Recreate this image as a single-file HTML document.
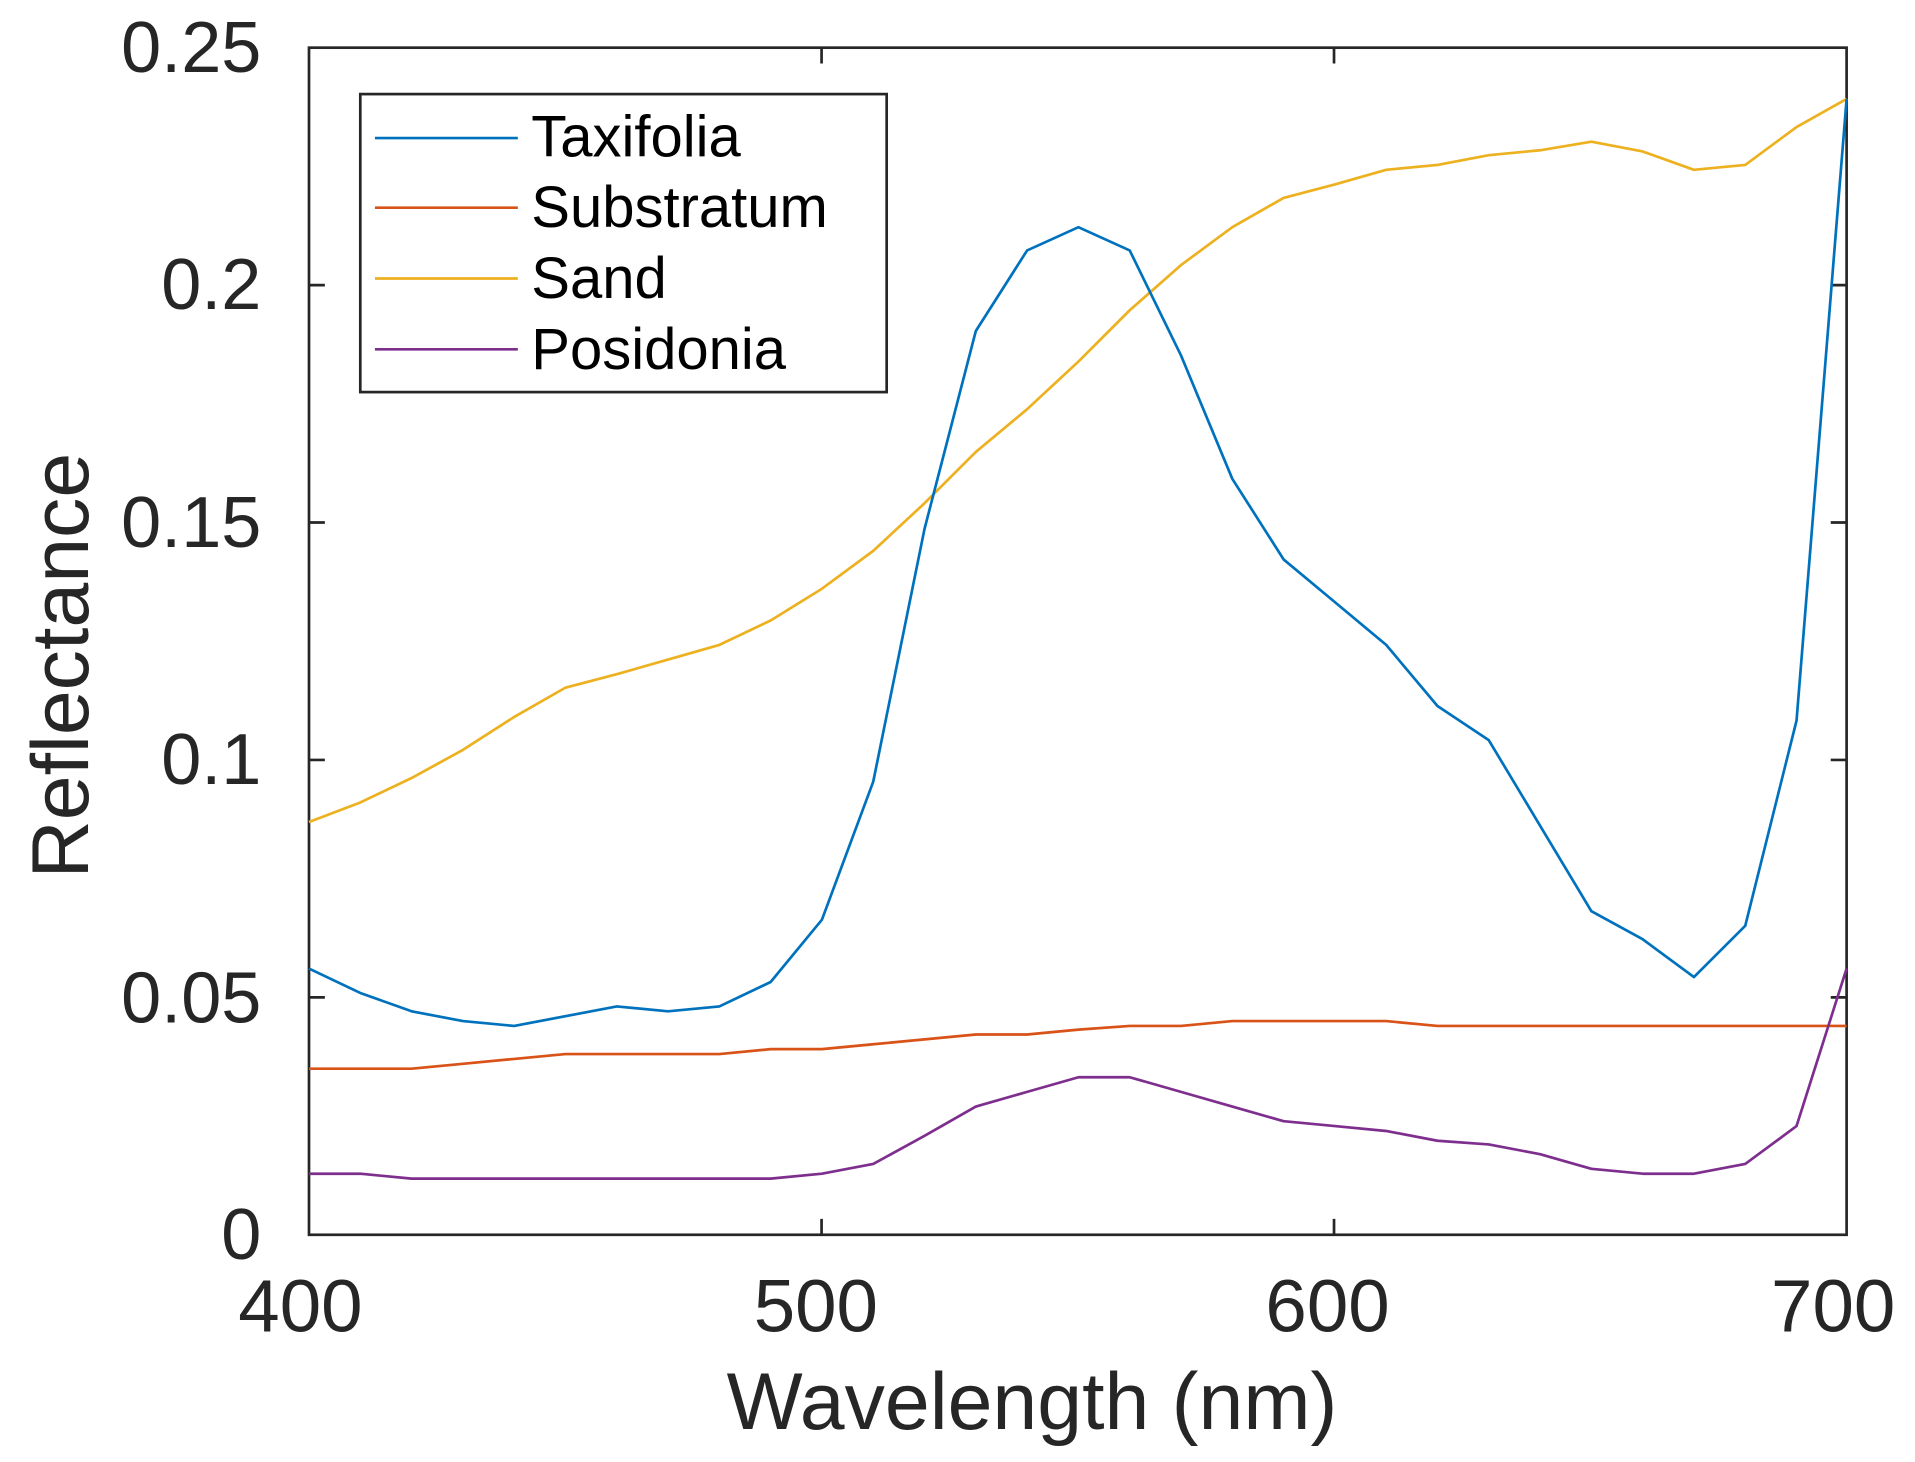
<!DOCTYPE html>
<html><head><meta charset="utf-8"><style>html,body{margin:0;padding:0;background:#fff}svg{display:block}</style></head>
<body>
<svg width="1915" height="1462" viewBox="0 0 1568 1197" xmlns="http://www.w3.org/2000/svg" font-family="Liberation Sans, sans-serif" fill="#262626">
<rect width="1568" height="1197" fill="#fff"/>
<g stroke="#262626" stroke-width="2.2" fill="none">
<rect x="253" y="39" width="1259" height="972"/>
<path d="M253,233.4h13M253,427.8h13M253,622.2h13M253,816.6h13M1512,233.4h-13M1512,427.8h-13M1512,622.2h-13M1512,816.6h-13M672.7,1011v-13M1092.3,1011v-13M672.7,39v13M1092.3,39v13"/>
</g>
<g fill="none" stroke-width="2.2" stroke-linejoin="round">
<polyline stroke="#EDB120" points="253,673 295,657 337,637 379,614 421,587 463,563 505,552 547,540 589,528 631,508 673,482 715,451 757,412 799,370 841,335 883,296 925,254 967,217 1009,186 1051,162 1093,151 1135,139 1177,135 1219,127 1261,123 1303,116 1345,124 1387,139 1429,135 1471,104 1512,81"/>
<polyline stroke="#D95319" points="253,875 295,875 337,875 379,871 421,867 463,863 505,863 547,863 589,863 631,859 673,859 715,855 757,851 799,847 841,847 883,843 925,840 967,840 1009,836 1051,836 1093,836 1135,836 1177,840 1219,840 1261,840 1303,840 1345,840 1387,840 1429,840 1471,840 1512,840"/>
<polyline stroke="#7E2F8E" points="253,961 295,961 337,965 379,965 421,965 463,965 505,965 547,965 589,965 631,965 673,961 715,953 757,930 799,906 841,894 883,882 925,882 967,894 1009,906 1051,918 1093,922 1135,926 1177,934 1219,937 1261,945 1303,957 1345,961 1387,961 1429,953 1471,922 1512,793"/>
<polyline stroke="#0072BD" points="253,793 295,813 337,828 379,836 421,840 463,832 505,824 547,828 589,824 631,804 673,753 715,640 757,433 799,271 841,205 883,186 925,205 967,291 1009,392 1051,458 1093,493 1135,528 1177,578 1219,606 1261,676 1303,746 1345,769 1387,800 1429,758 1471,590 1512,81"/>
</g>
<rect x="295" y="77" width="431" height="244" fill="#fff" stroke="#262626" stroke-width="2.2"/>
<g stroke-width="2.2">
<line x1="307" x2="424" y1="113" y2="113" stroke="#0072BD"/>
<line x1="307" x2="424" y1="170" y2="170" stroke="#D95319"/>
<line x1="307" x2="424" y1="228" y2="228" stroke="#EDB120"/>
<line x1="307" x2="424" y1="286" y2="286" stroke="#7E2F8E"/>
</g>
<g font-size="47.5" fill="#000">
<text x="435" y="128">Taxifolia</text>
<text x="435" y="186">Substratum</text>
<text x="435" y="244">Sand</text>
<text x="435" y="302">Posidonia</text>
</g>
<g font-size="59" text-anchor="end">
<text x="214" y="1031">0</text>
<text x="214" y="837">0.05</text>
<text x="214" y="642">0.1</text>
<text x="214" y="448">0.15</text>
<text x="214" y="253">0.2</text>
<text x="214" y="59">0.25</text>
</g>
<g font-size="61" text-anchor="middle">
<text x="246" y="1090">400</text>
<text x="668" y="1090">500</text>
<text x="1087" y="1090">600</text>
<text x="1501" y="1090">700</text>
</g>
<text x="845" y="1170" font-size="66" text-anchor="middle">Wavelength (nm)</text>
<text transform="translate(72,545) rotate(-90)" font-size="66" text-anchor="middle">Reflectance</text>
</svg>
</body></html>
